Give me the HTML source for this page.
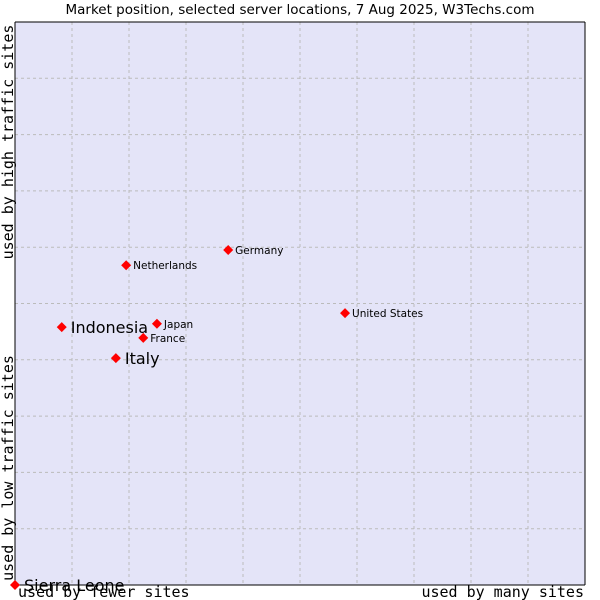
<!DOCTYPE html>
<html><head><meta charset="utf-8"><style>body{margin:0;background:#fff}svg{display:block}</style></head>
<body>
<svg width="600" height="600" xmlns="http://www.w3.org/2000/svg">
<text x="300" y="14" text-anchor="middle" font-family="DejaVu Sans, sans-serif" font-size="13.5" fill="#000">Market position, selected server locations, 7 Aug 2025, W3Techs.com</text>
<rect x="15" y="22" width="570" height="563" fill="#e4e4f8"/>
<g id="grid"></g>
<line x1="15" y1="22" x2="15" y2="585" stroke="#000"/>
<line x1="15" y1="585" x2="585" y2="585" stroke="#000"/>
<line x1="15" y1="22" x2="585" y2="22" stroke="#000"/>
<line x1="585" y1="22" x2="585" y2="585" stroke="#000"/>
<g id="pts"></g>
<text transform="translate(13,142) rotate(-90)" text-anchor="middle" font-family="DejaVu Sans Mono, monospace" font-size="15">used by high traffic sites</text>
<text transform="translate(13,468) rotate(-90)" text-anchor="middle" font-family="DejaVu Sans Mono, monospace" font-size="15">used by low traffic sites</text>
<text x="18" y="597" font-family="DejaVu Sans Mono, monospace" font-size="15">used by fewer sites</text>
<text x="584" y="597" text-anchor="end" font-family="DejaVu Sans Mono, monospace" font-size="15">used by many sites</text>
</svg>
<script>
const names=["Sierra Leone","Indonesia","Italy","Netherlands","Germany","Japan","France","United States"];
const xs=[0,8.2,17.7,19.5,37.4,24.9,22.5,57.9];
const ys=[0,45.8,40.3,56.8,59.5,46.4,43.9,48.3];
const big=[1,1,1,0,0,0,0,0];
const NS="http://www.w3.org/2000/svg";
const X=v=>15+v*5.7, Y=v=>585-v*5.63;
const g=document.getElementById('grid');
for(let i=1;i<10;i++){
  const l=document.createElementNS(NS,'line');
  
  
  l.setAttribute('x1',X(i*10));l.setAttribute('x2',X(i*10));l.setAttribute('y1',22);l.setAttribute('y2',585);
  l.setAttribute('stroke','#bbb');l.setAttribute('stroke-dasharray','3,3');g.appendChild(l);
  const h=document.createElementNS(NS,'line');
  
  
  h.setAttribute('y1',Y(i*10));h.setAttribute('y2',Y(i*10));h.setAttribute('x1',15);h.setAttribute('x2',585);
  h.setAttribute('stroke','#bbb');h.setAttribute('stroke-dasharray','3,3');g.appendChild(h);
}
const p=document.getElementById('pts');
names.forEach((n,i)=>{
  const cx=X(xs[i]),cy=Y(ys[i]);
  const d=document.createElementNS(NS,'polygon');
  
  
  d.setAttribute('points',`${cx},${cy-5} ${cx+5},${cy} ${cx},${cy+5} ${cx-5},${cy}`);
  d.setAttribute('fill','#f00');p.appendChild(d);
  const t=document.createElementNS(NS,'text');
  
  
  t.setAttribute('x',cx+(big[i]?9:7));t.setAttribute('y',cy+(big[i]?6:4));
  t.setAttribute('font-family','DejaVu Sans, sans-serif');
  t.setAttribute('font-size',big[i]?'16':'10.5');
  t.textContent=n;p.appendChild(t);
});
</script>
</body></html>
